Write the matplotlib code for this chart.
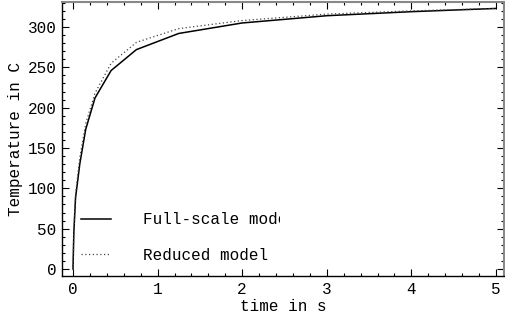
import numpy as np
import matplotlib
matplotlib.use("Agg")
import matplotlib.pyplot as plt
from matplotlib.ticker import MultipleLocator
from matplotlib.transforms import Bbox

# heating curves, time in s / temperature in C
t = [0, 0.01, 0.03, 0.08, 0.15, 0.26, 0.45, 0.75, 1.25, 2.0, 3.0, 4.0, 5.0]
T_full = [0, 45, 88, 130, 173, 212, 246, 272, 292, 305, 314, 319, 323]
T_reduced = [0, 48, 93, 138, 180, 218, 255, 281, 298, 308, 316, 320, 323]
labels = ["Full-scale model", "Reduced model"]

plt.rcParams['font.family'] = ['Liberation Mono', 'DejaVu Sans Mono']
plt.rcParams['font.size'] = 11.5

fig = plt.figure(figsize=(5.05, 3.2), dpi=100)
ax = fig.add_axes([62/505, 44/320, 442/505, 274/320])

ax.plot(t, T_full, color='black', lw=1.1, label=labels[0])
ax.plot(t, T_reduced, color='#444444', lw=0.9, ls=(0, (1, 2)), label=labels[1])

ax.set_xlim(-0.13, 5.095)
ax.set_ylim(-8.7, 331)
ax.xaxis.set_major_locator(MultipleLocator(1))
ax.xaxis.set_minor_locator(MultipleLocator(0.2))
ax.yaxis.set_major_locator(MultipleLocator(50))
ax.yaxis.set_minor_locator(MultipleLocator(10))
ax.tick_params(which='both', direction='in', top=True, right=True, width=0.8)
ax.tick_params(which='major', length=5, pad=4)
ax.tick_params(which='minor', length=2.5)

for s in ['top', 'right']:
    ax.spines[s].set_color('#888888')
    ax.spines[s].set_linewidth(1.5)
for s in ['left', 'bottom']:
    ax.spines[s].set_linewidth(1.0)

ax.set_xlabel('time in s', labelpad=2)
ax.set_ylabel('Temperature in C', labelpad=3)

leg = ax.legend(loc='upper left', bbox_to_anchor=(0.043, 0.233), frameon=False,
                borderpad=0, borderaxespad=0, handlelength=1.9,
                handletextpad=2.0, labelspacing=1.31)
# the legend box cuts off the long label
clip = Bbox.from_extents(0, 0, 280, 320)
for txt in leg.get_texts():
    txt.set_clip_box(clip)
    txt.set_clip_on(True)

fig.savefig('out.png', dpi=100)
